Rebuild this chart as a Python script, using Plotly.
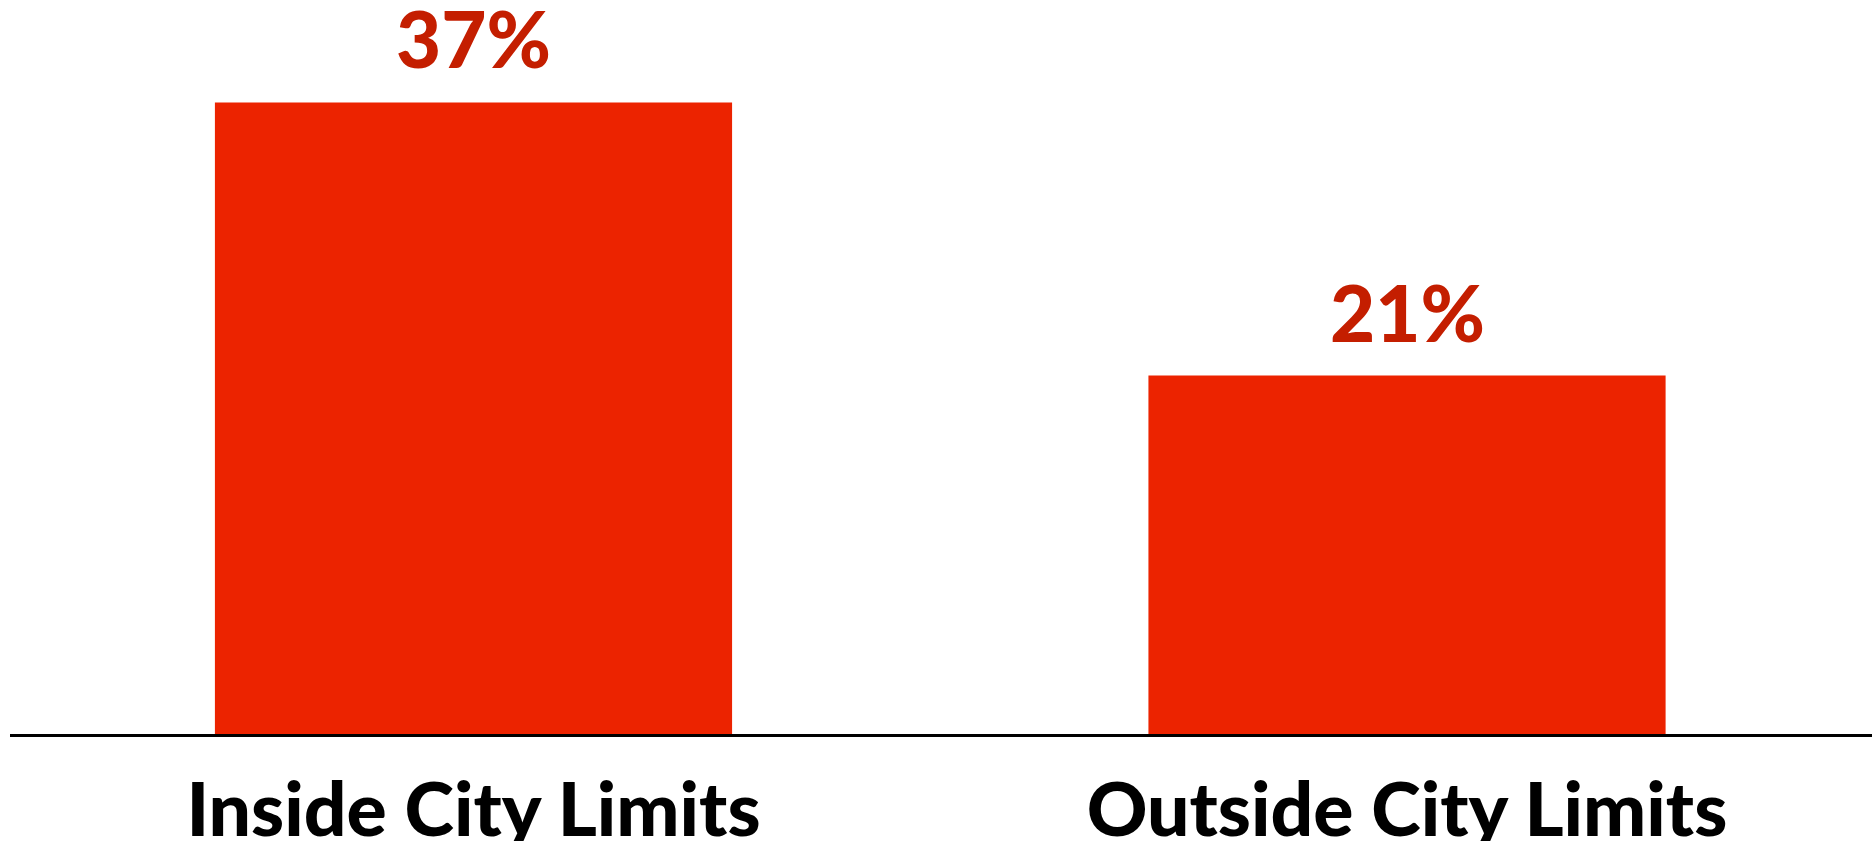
import plotly.graph_objects as go

categories = ["Inside City Limits", "Outside City Limits"]
values = [37, 21]
value_labels = ["37%", "21%"]

BAR_COLOR = "#EC2300"
LABEL_COLOR = "#C41E00"
FONT = "Lato, 'DejaVu Sans', sans-serif"

positions = list(range(len(categories)))

fig = go.Figure()
fig.add_trace(go.Bar(
    x=positions, y=values, width=0.554,
    marker=dict(color=BAR_COLOR, line=dict(width=0)),
    hoverinfo="skip",
))

for p, v, t in zip(positions, values, value_labels):
    fig.add_annotation(
        x=p, y=v, text=t, showarrow=False,
        yanchor="bottom", yshift=15,
        font=dict(family=FONT, size=78, color=LABEL_COLOR, weight=900),
    )

fig.update_layout(
    width=1872, height=841,
    margin=dict(l=10, r=0, t=0, b=107, pad=0),
    paper_bgcolor="white", plot_bgcolor="white",
    showlegend=False,
    hovermode=False,
    xaxis=dict(
        range=[-0.4965, 1.4981], automargin=False,
        tickvals=positions, ticktext=categories,
        showline=True, linecolor="black", linewidth=2.5,
        showgrid=False, zeroline=False,
        ticks="", ticklabelstandoff=9,
        tickfont=dict(family=FONT, size=75, color="black", weight=900),
    ),
    yaxis=dict(
        range=[0, 43.0], visible=False, showgrid=False, zeroline=False,
        automargin=False,
    ),
)

fig.write_html(
    "out.html",
    config={"displayModeBar": False},
    post_script="document.body.style.margin='0';document.body.style.overflow='hidden';",
)
